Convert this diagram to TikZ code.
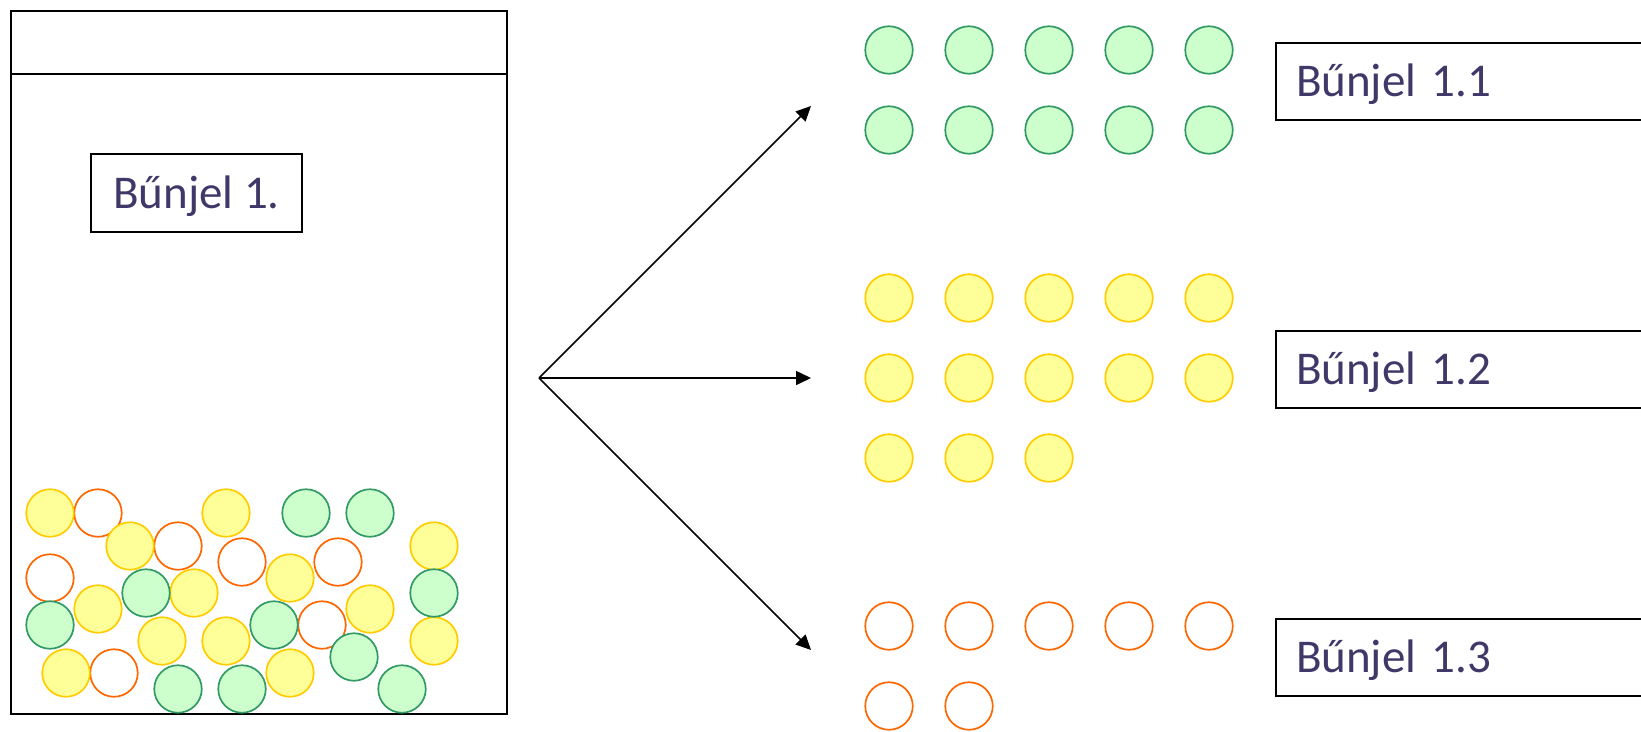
\documentclass[tikz,border=0pt]{standalone}
\usepackage{fontspec}
\setmainfont{Carlito}
\usetikzlibrary{arrows.meta}
\definecolor{txtc}{HTML}{403868}
\definecolor{gfill}{HTML}{CCFFCC}
\definecolor{gline}{HTML}{339966}
\definecolor{yfill}{HTML}{FFFF99}
\definecolor{yline}{HTML}{FFCC00}
\definecolor{oline}{HTML}{FF6600}
\tikzset{
  ball/.style={circle, inner sep=0pt, minimum size=47.5pt, line width=1.7pt},
  gball/.style={ball, draw=gline, fill=gfill},
  yball/.style={ball, draw=yline, fill=yfill},
  oball/.style={ball, draw=oline, fill=white},
  lbl/.style={draw=black, line width=2pt, font=\fontsize{47}{56}\selectfont, text=txtc,
    text height=30pt, text depth=0pt, anchor=north west},
  rlbl/.style={lbl, minimum width=430pt, minimum height=77pt, inner xsep=0pt, inner ysep=0pt, text width=410pt, align=left},
  arr/.style={line width=1.6pt, -{Triangle[length=15pt,width=14pt]}},
}
\begin{document}
\begin{tikzpicture}[x=1pt,y=-1pt]
\useasboundingbox (0,0) rectangle (1641,731);
% jar
\draw[line width=2pt] (11,11) rectangle (507,714);
\draw[line width=2pt] (11,74) -- (507,74);
\node[lbl, minimum width=211pt, minimum height=78pt, inner sep=0pt] (b1) at (90,153) {Bűnjel 1.};
% mixed balls: orange first
\foreach \x/\y [count=\i] in {98/513,178/546,242/562,338/562,50/578,322/625,114/673}
  \node[oball] (jo\i) at (\x,\y) {};
\foreach \x/\y [count=\i] in {50/513,226/513,130/546,434/546,290/578,194/593,98/609,370/609,162/641,226/641,434/641,66/673,290/673}
  \node[yball] (jy\i) at (\x,\y) {};
\foreach \x/\y [count=\i] in {306/513,370/513,146/593,434/593,50/625,274/625,354/657,178/689,242/689,402/689}
  \node[gball] (jg\i) at (\x,\y) {};
% arrows
\coordinate (src) at (539,378);
\coordinate (t1) at (811,106);
\coordinate (t2) at (811,378);
\coordinate (t3) at (811,650);
\draw[arr] (src) -- (t1);
\draw[arr] (src) -- (t2);
\draw[arr] (src) -- (t3);
% sorted balls
\foreach \y [count=\r] in {50,130}
  \foreach \i in {0,...,4}
    \node[gball] (g\r\i) at (889+80*\i,\y) {};
\foreach \y/\n [count=\r] in {298/4,378/4,458/2}
  \foreach \i in {0,...,\n}
    \node[yball] (y\r\i) at (889+80*\i,\y) {};
\foreach \i in {0,...,4}
  \node[oball] (o1\i) at (889+80*\i,626) {};
\foreach \i in {0,1}
  \node[oball] (o2\i) at (889+80*\i,706) {};
% labels
\node[rlbl] (b11) at (1275,42) {\hspace*{10pt}Bűnjel 1.1};
\node[rlbl] (b12) at (1275,330) {\hspace*{10pt}Bűnjel 1.2};
\node[rlbl] (b13) at (1275,618) {\hspace*{10pt}Bűnjel 1.3};
\end{tikzpicture}
\end{document}
